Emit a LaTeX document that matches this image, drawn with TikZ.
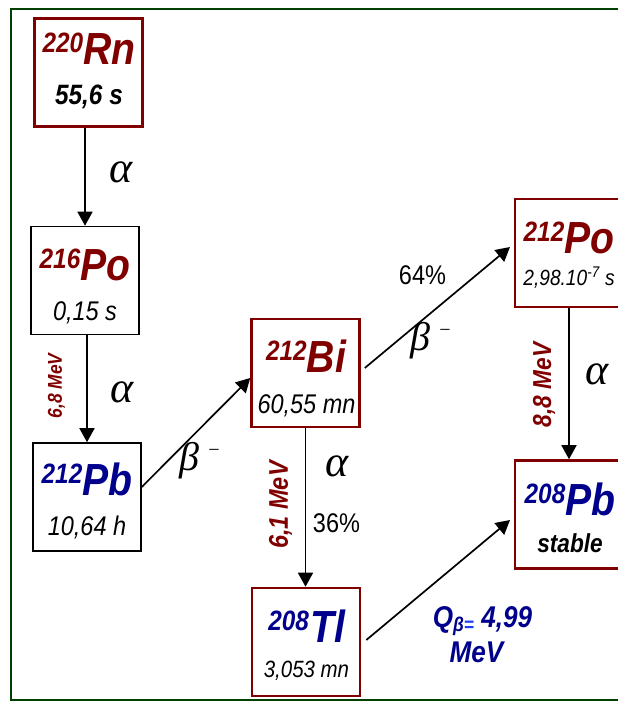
\documentclass[tikz,border=0pt]{standalone}
\usepackage{fontspec}
\setmainfont{Liberation Sans}[FakeStretch=0.87]
\newfontfamily\greekfont{Liberation Serif}
\usetikzlibrary{arrows.meta}
\definecolor{nucred}{RGB}{128,0,0}
\definecolor{nucblue}{RGB}{0,0,140}
\definecolor{framegreen}{RGB}{0,64,0}
\definecolor{eqblue}{RGB}{30,60,240}
\newcommand{\fs}[1]{\fontsize{#1bp}{#1bp}\selectfont}
\newcommand{\nuc}[2]{{\fs{28}\raisebox{12bp}{#1}}{\fs{45}#2}}
\newcommand{\betam}{β\hspace{8bp}\raisebox{14bp}{\fs{20}−}}

\begin{document}
\begin{tikzpicture}[x=1bp,y=-1bp,
  redbox/.style={draw=nucred, line width=2.6bp, minimum width=108bp, minimum height=108bp},
  blackbox/.style={draw=black, line width=1.6bp, minimum width=108bp, minimum height=108bp},
  decay/.style={line width=1.7bp, -{Triangle[length=14bp,width=15bp]}},
  nucname/.style={anchor=base, inner sep=0pt, text depth=0pt, font=\bfseries\itshape},
  halflife/.style={anchor=base, inner sep=0pt, font={\itshape\fs{27}}},
  elabel/.style={rotate=90, inner sep=0pt, text=nucred, font={\bfseries\itshape\fs{26}}},
  decaymode/.style={inner sep=0pt, font={\greekfont\itshape\fs{44}}},
  branch/.style={inner sep=0pt, font={\fs{27}}},
  qlabel/.style={anchor=base, inner sep=0pt, text=nucblue, font={\bfseries\itshape\fs{30}}}]
\useasboundingbox (0,0) rectangle (618,702);
\clip (0,0) rectangle (618,702);
\draw[framegreen, line width=2.5bp] (11,9) rectangle (660,700);
% boxes
\node[redbox] (rn) at (88.5,72.5) {};
\node[blackbox] (po1) at (85,280.5) {};
\node[blackbox] (pb1) at (87,497) {};
\node[redbox] (bi) at (305.5,373) {};
\node[redbox] (po2) at (569,253) {};
\node[redbox, minimum width=112bp] (pb2) at (571,514.5) {};
\node[redbox] (tl) at (306,642) {};
% nuclides and half-lives
\node[nucname, text=nucred] (rnname) at (89,65) {\nuc{220}{Rn}};
\node[halflife, font={\bfseries\itshape\fs{28}}] (rnlife) at (89,105) {55,6 s};
\node[nucname, text=nucred] (po1name) at (85,280) {\nuc{216}{Po}};
\node[halflife] (po1life) at (85,320) {0,15 s};
\node[nucname, text=nucblue] (pb1name) at (87,495) {\nuc{212}{Pb}};
\node[halflife] (pb1life) at (87,535) {10,64 h};
\node[nucname, text=nucred] (biname) at (306,372) {\nuc{212}{Bi}};
\node[halflife] (bilife) at (306.5,413) {60,55 mn};
\node[nucname, text=nucred] (po2name) at (569,253) {\nuc{212}{Po}};
\node[halflife, font={\itshape\fs{22}}] (po2life) at (569,285) {2,98.10\textsuperscript{-7} s};
\node[nucname, text=nucblue] (pb2name) at (570,515) {\nuc{208}{Pb}};
\node[halflife, font={\bfseries\itshape\fs{26}}] (pb2life) at (570,552) {stable};
\node[nucname, text=nucblue] (tlname) at (307,642) {\nuc{208}{\hspace{2bp}Tl}};
\node[halflife, font={\itshape\fs{23.5}}] (tllife) at (306.5,677) {3,053 mn};
% decays
\draw[decay] (po1.north |- rn.south) -- (po1.north);
\draw[decay] (pb1.north |- po1.south) -- (pb1.north);
\draw[decay] ([yshift=10bp]pb1.east) -- ([yshift=-5bp]bi.west);
\draw[decay] ([xshift=4bp,yshift=5bp]bi.east) -- ([xshift=-3.7bp,yshift=6bp]po2.west);
\draw[decay] (bi.south) -- (bi.south |- tl.north);
\draw[decay] (po2.south) -- (po2.south |- pb2.north);
\draw[decay] ([xshift=5bp,yshift=2bp]tl.east) -- ([xshift=-3.7bp,yshift=-5.5bp]pb2.west);
% labels
\node[decaymode] (a1) at (121,172) {α};
\node[decaymode] (a2) at (122,392) {α};
\node[elabel, font={\bfseries\itshape\fs{20}}] (e1) at (56.5,386) {6,8 MeV};
\node[decaymode, font={\greekfont\itshape\fs{40}}] (b1) at (200,461) {\betam};
\node[branch] (r1) at (422.5,275) {64\%};
\node[decaymode, font={\greekfont\itshape\fs{40}}] (b2) at (431,341) {\betam};
\node[decaymode] (a3) at (337.5,466) {α};
\node[branch] (r2) at (336.5,523) {36\%};
\node[elabel, font={\bfseries\itshape\fs{27}}] (e2) at (280.5,505) {6,1 MeV};
\node[decaymode] (a4) at (597.5,374) {α};
\node[elabel] (e3) at (544,385) {8,8 MeV};
\node[qlabel] (q1) at (482.5,627) {Q{\fs{20}\raisebox{-4bp}{β\textcolor{eqblue}{=}}} 4,99};
\node[qlabel] (q2) at (476.5,662) {MeV};
\end{tikzpicture}
\end{document}
